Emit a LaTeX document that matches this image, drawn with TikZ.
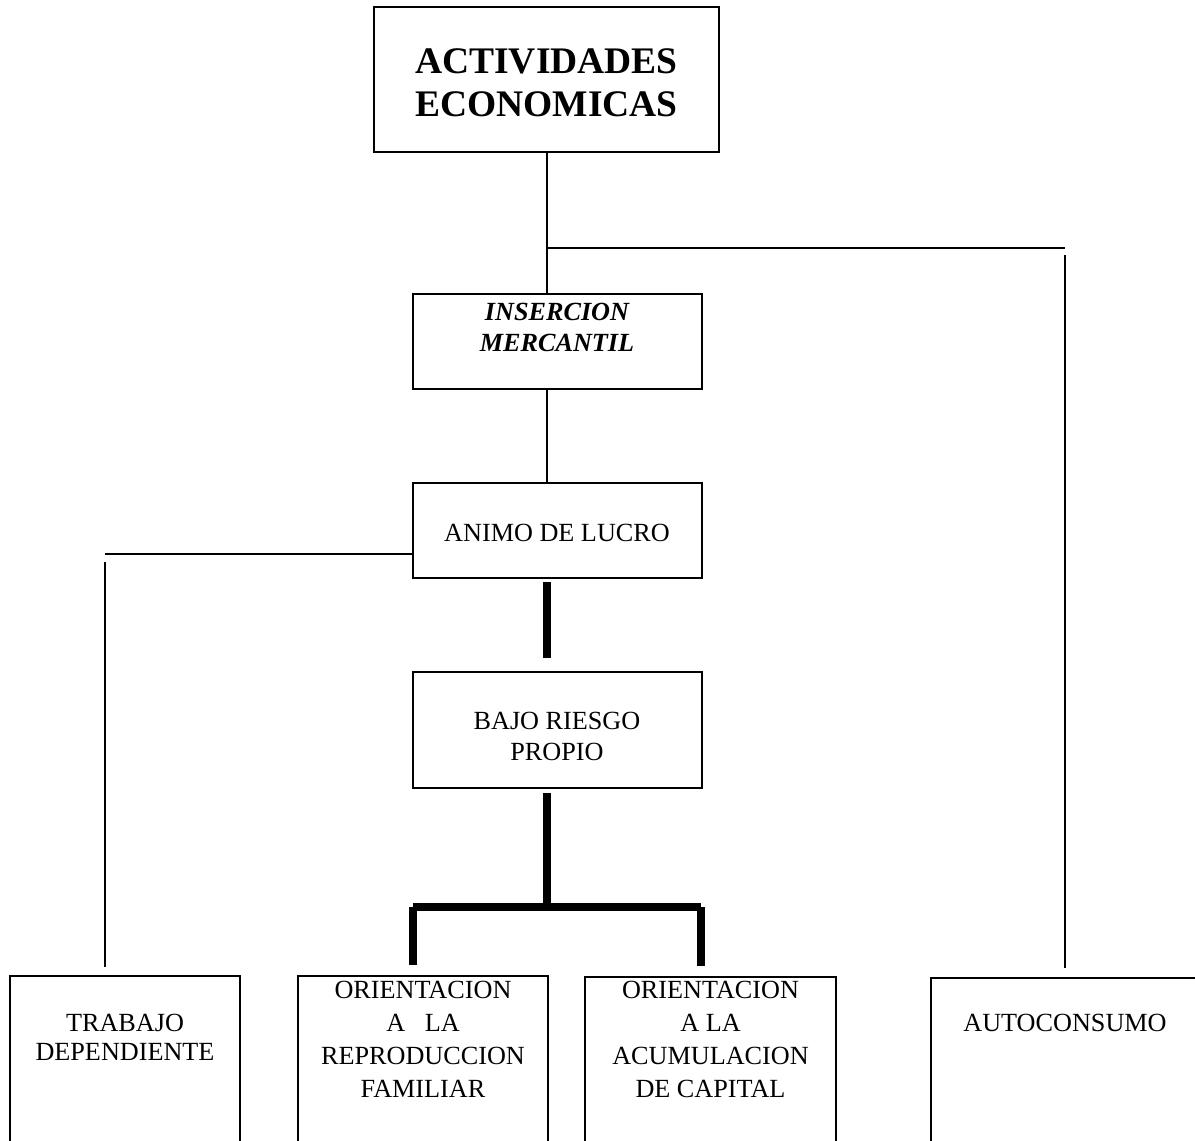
\documentclass[tikz,border=0pt]{standalone}
\usepackage{fontspec}
\setmainfont{Liberation Serif}
\usetikzlibrary{fit,calc}
\begin{document}
\begin{tikzpicture}[x=0.5pt,y=-0.5pt,
  box/.style={draw, line width=1pt, inner sep=0pt, outer sep=0pt, rectangle},
  conn/.style={line width=1pt},
  heavy/.style={line width=3.75pt},
  txt/.style={align=center, inner sep=0pt}]
\useasboundingbox (0,0) rectangle (1195,1141);
\clip (0,0) rectangle (1195,1141);
% boxes
\node[box, fit={(374,7) (719,152)}] (top) {};
\node[box, fit={(413,294) (702,389)}] (ins) {};
\node[box, fit={(413,483) (702,578)}] (animo) {};
\node[box, fit={(413,672) (702,788)}] (bajo) {};
\node[box, fit={(10,976) (240,1170)}] (trab) {};
\node[box, fit={(298,976) (548,1170)}] (orep) {};
\node[box, fit={(585,977) (836,1170)}] (oacu) {};
\node[box, fit={(931,978) (1202,1170)}] (auto) {};
% texts
\node[txt, font=\bfseries\fontsize{18.75pt}{21.5pt}\selectfont] (top-t) at (546.5,83) {ACTIVIDADES\\ECONOMICAS};
\node[txt, font=\bfseries\itshape\fontsize{13.1pt}{15.5pt}\selectfont] (ins-t) at (557,327) {INSERCION\\MERCANTIL};
\node[txt, font=\fontsize{13.1pt}{15pt}\selectfont] (animo-t) at (557,533) {ANIMO DE LUCRO};
\node[txt, font=\fontsize{13.1pt}{15.5pt}\selectfont] (bajo-t) at (557,736.5) {BAJO RIESGO\\PROPIO};
\node[txt, font=\fontsize{13.1pt}{14.5pt}\selectfont] (trab-t) at (125,1037.5) {TRABAJO\\DEPENDIENTE};
\node[txt, font=\fontsize{13.1pt}{16.5pt}\selectfont] (orep-t) at (423,1039.5) {ORIENTACION\\A\ \ \ LA\\REPRODUCCION\\FAMILIAR};
\node[txt, font=\fontsize{13.1pt}{16.5pt}\selectfont] (oacu-t) at (710.5,1039.5) {ORIENTACION\\A LA\\ACUMULACION\\DE CAPITAL};
\node[txt, font=\fontsize{13.1pt}{15pt}\selectfont] (auto-t) at (1065,1023) {AUTOCONSUMO};
% coordinates
\coordinate (j1) at (547,248);
\coordinate (r1) at (1065,248);
\coordinate (r2) at (1065,255);
\coordinate (l1) at (105,554);
\coordinate (l2) at (105,562);
\coordinate (b1) at (547,907);
\coordinate (b2) at (413,907);
\coordinate (b3) at (701,907);
% thin connectors
\draw[conn] (top.south -| j1) -- (ins.north -| j1);
\draw[conn] (j1) -- (r1);
\draw[conn] (r2) -- ($(auto.north -| r2)+(0,-10)$);
\draw[conn] (ins.south -| j1) -- (animo.north -| j1);
\draw[conn] (animo.west |- l1) -- (l1);
\draw[conn] (l2) -- ($(trab.north -| l2)+(0,-9)$);
% thick connectors
\draw[heavy] ($(animo.south -| j1)+(0,4)$) -- ($(bajo.north -| j1)+(0,-14)$);
\draw[heavy] ($(bajo.south -| j1)+(0,5)$) -- (b1);
\draw[heavy] (b2) -- (b3);
\draw[heavy] (b2) -- ($(orep.north -| b2)+(0,-11)$);
\draw[heavy] (b3) -- ($(oacu.north -| b3)+(0,-11)$);
\end{tikzpicture}
\end{document}
